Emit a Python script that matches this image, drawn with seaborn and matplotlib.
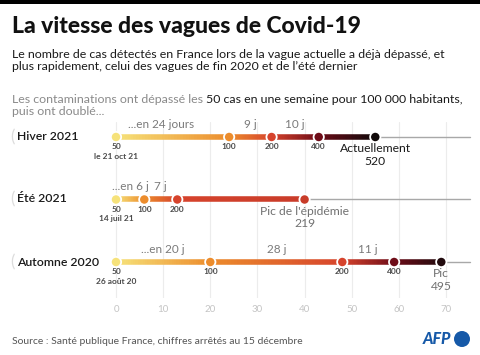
import numpy as np
import pandas as pd
import matplotlib
matplotlib.use("Agg")
import matplotlib.pyplot as plt
import seaborn as sns
from matplotlib.collections import LineCollection
from matplotlib.colors import LinearSegmentedColormap
from matplotlib.patches import Rectangle, Circle
from matplotlib.transforms import IdentityTransform

# données
waves = ["Hiver 2021", "Été 2021", "Automne 2020"]
hiver_days = [0, 24, 33, 43, 55]
hiver_cases = [50, 100, 200, 400, 520]
ete_days = [0, 6, 13, 40]
ete_cases = [50, 100, 200, 219]
automne_days = [0, 20, 48, 59, 69]
automne_cases = [50, 100, 200, 400, 495]
hiver_gaps = ["...en 24 jours", "9 j", "10 j"]
ete_gaps = ["...en 6 j", "7 j"]
automne_gaps = ["...en 20 j", "28 j", "11 j"]
start_dates = ["le 21 oct 21", "14 juil 21", "26 août 20"]
end_labels = ["Actuellement\n520", "Pic de l'épidémie\n219", "Pic\n495"]
x_ticks = [0, 10, 20, 30, 40, 50, 60, 70]

sns.set_theme(style="white")
plt.rcParams["font.family"] = ["Lato", "DejaVu Sans"]

W, H = 480, 355
fig = plt.figure(figsize=(W / 100, H / 100), dpi=100)


def fy(px):
    return 1 - px / H


# bandeau noir en haut
fig.add_artist(Rectangle((0, fy(4)), 1, 4 / H, transform=fig.transFigure,
                         color="black", lw=0))

fig.text(12 / W, fy(33), "La vitesse des vagues de Covid-19", fontsize=16.5,
         fontweight=900, color="#111111", va="baseline")
fig.text(12 / W, fy(58), "Le nombre de cas détectés en France lors de la vague actuelle a déjà dépassé, et",
         fontsize=8.9, color="#1a1a1a", va="baseline")
fig.text(12 / W, fy(70), "plus rapidement, celui des vagues de fin 2020 et de l’été dernier",
         fontsize=8.9, color="#1a1a1a", va="baseline")

# texte en deux couleurs
renderer = fig.canvas.get_renderer()
t1 = fig.text(12 / W, fy(103), "Les contaminations ont dépassé les ", fontsize=8.9,
              color="#8a8a8a", va="baseline")
x_end = t1.get_window_extent(renderer).x1
fig.text(x_end / W, fy(103), "50 cas en une semaine pour 100 000 habitants,",
         fontsize=8.9, color="#1a1a1a", va="baseline")
fig.text(12 / W, fy(115), "puis ont doublé...", fontsize=8.9, color="#8a8a8a", va="baseline")

# axe principal : 0 jour à x=116 px, 70 jours à x=446 px
ppd = (446 - 116) / 70
ax_top, ax_bot = 122, 298
ax = fig.add_axes([0, 1 - ax_bot / H, 1, (ax_bot - ax_top) / H])
ax.set_xlim(-116 / ppd, (W - 116) / ppd)
row_px = [137, 199, 262]
ppr = (row_px[2] - row_px[0]) / 2
ax.set_ylim((ax_bot - row_px[0]) / ppr, (ax_top - row_px[0]) / ppr)
for s in ax.spines.values():
    s.set_visible(False)
ax.set_xticks(x_ticks)
ax.set_yticks([])
ax.tick_params(axis="x", length=0, pad=5, labelsize=7, labelcolor="#c4c4c4")
for t in x_ticks:
    ax.axvline(t, color="#ececec", lw=0.8, zorder=0)

cmap = LinearSegmentedColormap.from_list(
    "vague",
    [(0.0, "#f6e27a"), (1 / 3.4, "#ec8c2c"), (2 / 3.4, "#d6432c"),
     (3 / 3.4, "#6e0c18"), (1.0, "#0e0a0a")])


def level(c):
    return np.clip(np.log2(np.asarray(c) / 50) / 3.4, 0, 1)


all_days = [hiver_days, ete_days, automne_days]
all_cases = [hiver_cases, ete_cases, automne_cases]
all_gaps = [hiver_gaps, ete_gaps, automne_gaps]

pts = []
for r, (days, cases, gaps) in enumerate(zip(all_days, all_cases, all_gaps)):
    # prolongement gris
    ax.plot([days[-1], 75], [r, r], color="#a8a8a8", lw=1, zorder=1)
    # segments en dégradé
    for i in range(len(days) - 1):
        xs = np.linspace(days[i], days[i + 1], 40)
        lv = np.linspace(level(cases[i]), level(cases[i + 1]), 40)
        segs = [[(xs[k], r), (xs[k + 1], r)] for k in range(len(xs) - 1)]
        lc = LineCollection(segs, colors=cmap((lv[:-1] + lv[1:]) / 2), linewidths=4,
                            capstyle="butt", zorder=2)
        ax.add_collection(lc)
        if i < len(gaps):
            mid = (days[i] + days[i + 1]) / 2
            if gaps[i].startswith("...") and r == 0:
                mid -= 2.5
            ax.annotate(gaps[i], (mid, r), xytext=(0, 9), textcoords="offset points",
                        ha="center", va="center", fontsize=8.5, color="#7a7a7a")
    for i, (d, c) in enumerate(zip(days, cases)):
        pts.append({"day": d, "row": r, "key": f"{r}-{i}", "lvl": float(level(c))})
        if i < len(days) - 1:
            ax.annotate(str(c), (d, r), xytext=(0, -7), textcoords="offset points",
                        ha="center", va="center", fontsize=6, fontweight="bold",
                        color="#4a4a4a")
    ax.annotate(start_dates[r], (0, r), xytext=(0, -14), textcoords="offset points",
                ha="center", va="center", fontsize=6, fontweight="bold", color="#4a4a4a")
    end_col = "#1a1a1a" if r == 0 else "#707070"
    ax.annotate(end_labels[r], (days[-1], r), xytext=(0, -13), textcoords="offset points",
                ha="center", va="center", fontsize=8.7, color=end_col, linespacing=1.15)

df = pd.DataFrame(pts)
palette = {k: cmap(v) for k, v in zip(df["key"], df["lvl"])}
sns.scatterplot(data=df, x="day", y="row", hue="key", palette=palette, legend=False,
                s=55, edgecolor="white", linewidth=1.3, zorder=5, ax=ax)
ax.set_xlabel("")
ax.set_ylabel("")

# libellés des vagues
for r, name in enumerate(waves):
    y = fy(row_px[r])
    fig.text(10 / W, y, "(", fontsize=12, color="#dcdcdc", va="center")
    fig.text(17 / W, y, name, fontsize=8.8, fontweight="semibold", color="#1a1a1a",
             va="center")

fig.text(12 / W, fy(344), "Source : Santé publique France, chiffres arrêtés au 15 décembre",
         fontsize=7.5, color="#555555", va="baseline")

# logo AFP
fig.text(451 / W, fy(344), "AFP", fontsize=11.5, fontweight=900, style="italic",
         color="#1659a8", va="baseline", ha="right")
fig.add_artist(Circle((462, H - 339), 8, transform=IdentityTransform(),
                      color="#1659a8", lw=0))

fig.savefig("out.png", dpi=100)
